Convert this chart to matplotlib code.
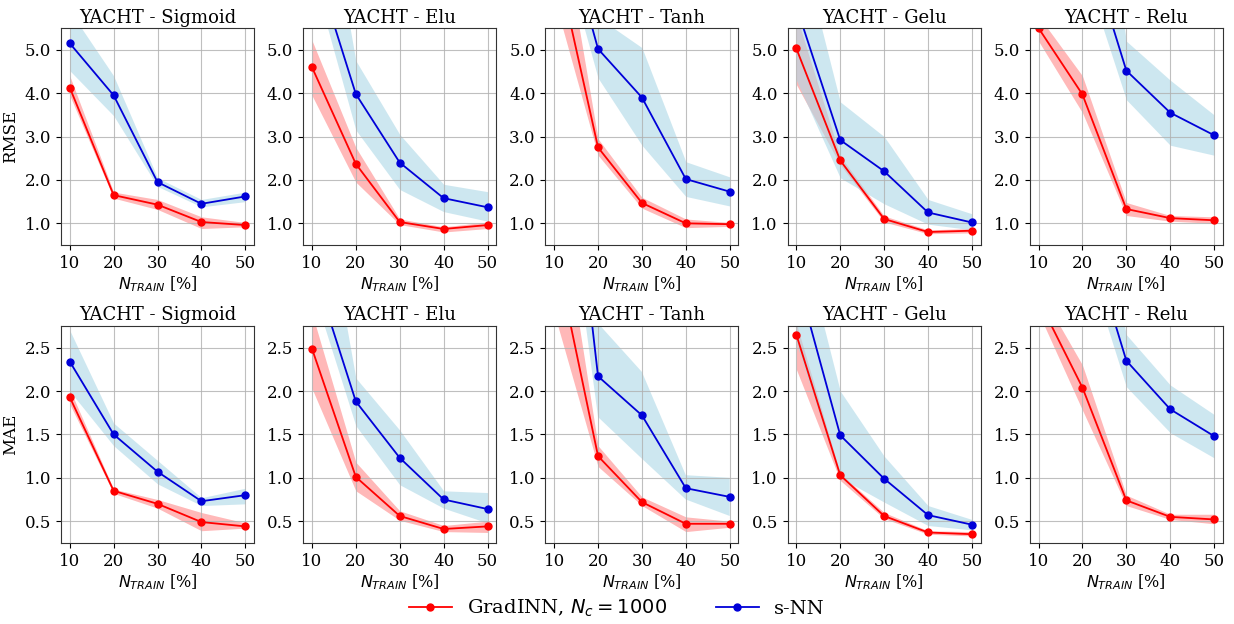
import matplotlib
matplotlib.use("Agg")
import matplotlib.pyplot as plt
import numpy as np

plt.rcParams['font.family'] = ['DejaVu Serif']
plt.rcParams['mathtext.fontset'] = 'dejavusans'

x_train = [10, 20, 30, 40, 50]
activations = ["Sigmoid", "Elu", "Tanh", "Gelu", "Relu"]

# RMSE: GradINN (mean, lower, upper)
rmse_grad_mean = {
    "Sigmoid": [4.13, 1.65, 1.43, 1.03, 0.96],
    "Elu":     [4.60, 2.37, 1.03, 0.87, 0.96],
    "Tanh":    [7.30, 2.75, 1.47, 1.00, 0.98],
    "Gelu":    [5.03, 2.45, 1.10, 0.80, 0.83],
    "Relu":    [5.50, 3.97, 1.33, 1.12, 1.07],
}
rmse_grad_lo = {
    "Sigmoid": [3.95, 1.58, 1.32, 0.88, 0.92],
    "Elu":     [3.95, 1.95, 0.97, 0.80, 0.88],
    "Tanh":    [6.20, 2.57, 1.35, 0.90, 0.93],
    "Gelu":    [4.20, 2.35, 1.03, 0.76, 0.78],
    "Relu":    [5.20, 3.55, 1.18, 1.05, 1.00],
}
rmse_grad_hi = {
    "Sigmoid": [4.40, 1.72, 1.55, 1.15, 1.02],
    "Elu":     [5.22, 2.75, 1.10, 0.92, 1.03],
    "Tanh":    [8.90, 2.95, 1.60, 1.10, 1.02],
    "Gelu":    [5.80, 2.55, 1.17, 0.85, 0.88],
    "Relu":    [5.78, 4.40, 1.48, 1.18, 1.15],
}
# RMSE: s-NN
rmse_snn_mean = {
    "Sigmoid": [5.15, 3.95, 1.95, 1.45, 1.62],
    "Elu":     [7.20, 3.98, 2.40, 1.58, 1.37],
    "Tanh":    [8.70, 5.02, 3.90, 2.02, 1.73],
    "Gelu":    [6.00, 2.92, 2.20, 1.25, 1.02],
    "Relu":    [12.0, 7.80, 4.52, 3.55, 3.03],
}
rmse_snn_lo = {
    "Sigmoid": [4.52, 3.48, 1.85, 1.38, 1.50],
    "Elu":     [6.80, 3.15, 1.78, 1.27, 1.05],
    "Tanh":    [8.00, 4.35, 2.80, 1.62, 1.40],
    "Gelu":    [4.30, 2.05, 1.45, 0.98, 0.85],
    "Relu":    [10.0, 6.96, 3.85, 2.80, 2.57],
}
rmse_snn_hi = {
    "Sigmoid": [5.90, 4.40, 2.05, 1.55, 1.72],
    "Elu":     [10.5, 4.75, 3.05, 1.90, 1.73],
    "Tanh":    [12.0, 5.75, 5.05, 2.42, 2.07],
    "Gelu":    [7.80, 3.80, 3.00, 1.55, 1.22],
    "Relu":    [14.0, 12.0, 5.20, 4.30, 3.50],
}

# MAE: GradINN
mae_grad_mean = {
    "Sigmoid": [1.93, 0.85, 0.70, 0.49, 0.44],
    "Elu":     [2.49, 1.01, 0.56, 0.41, 0.44],
    "Tanh":    [3.67, 1.25, 0.72, 0.47, 0.47],
    "Gelu":    [2.65, 1.03, 0.56, 0.37, 0.35],
    "Relu":    [3.05, 2.04, 0.74, 0.55, 0.52],
}
mae_grad_lo = {
    "Sigmoid": [1.85, 0.82, 0.65, 0.39, 0.42],
    "Elu":     [2.03, 0.85, 0.51, 0.38, 0.37],
    "Tanh":    [2.90, 1.13, 0.68, 0.38, 0.43],
    "Gelu":    [2.25, 0.97, 0.53, 0.35, 0.33],
    "Relu":    [2.90, 1.78, 0.68, 0.52, 0.47],
}
mae_grad_hi = {
    "Sigmoid": [2.02, 0.87, 0.75, 0.60, 0.48],
    "Elu":     [2.90, 1.18, 0.62, 0.45, 0.50],
    "Tanh":    [4.60, 1.37, 0.78, 0.55, 0.50],
    "Gelu":    [2.78, 1.05, 0.60, 0.39, 0.38],
    "Relu":    [3.18, 2.30, 0.80, 0.58, 0.58],
}
# MAE: s-NN
mae_snn_mean = {
    "Sigmoid": [2.34, 1.50, 1.07, 0.73, 0.80],
    "Elu":     [3.46, 1.88, 1.23, 0.75, 0.64],
    "Tanh":    [6.60, 2.17, 1.72, 0.88, 0.78],
    "Gelu":    [3.34, 1.49, 0.99, 0.57, 0.46],
    "Relu":    [6.00, 4.02, 2.35, 1.79, 1.48],
}
mae_snn_lo = {
    "Sigmoid": [2.00, 1.37, 0.93, 0.68, 0.70],
    "Elu":     [3.20, 1.60, 0.92, 0.65, 0.48],
    "Tanh":    [5.50, 1.70, 1.22, 0.75, 0.56],
    "Gelu":    [2.55, 1.00, 0.72, 0.45, 0.40],
    "Relu":    [5.50, 3.65, 2.05, 1.52, 1.23],
}
mae_snn_hi = {
    "Sigmoid": [2.70, 1.63, 1.20, 0.77, 0.88],
    "Elu":     [5.00, 2.15, 1.55, 0.85, 0.83],
    "Tanh":    [9.00, 2.78, 2.22, 1.03, 1.00],
    "Gelu":    [4.00, 2.00, 1.25, 0.68, 0.52],
    "Relu":    [7.00, 5.00, 2.65, 2.07, 1.73],
}

red_line = "#ff0000"
red_fill = "#ff0000"
blue_line = "#0000d8"
blue_fill = "lightblue"

fig, axes = plt.subplots(2, 5, figsize=(12.34, 6.24), dpi=100)
fig.subplots_adjust(left=0.0494, right=0.991, top=0.955, bottom=0.130,
                    wspace=0.254, hspace=0.373)

rows = [
    ("RMSE", rmse_grad_mean, rmse_grad_lo, rmse_grad_hi,
     rmse_snn_mean, rmse_snn_lo, rmse_snn_hi, (0.5, 5.5),
     [1.0, 2.0, 3.0, 4.0, 5.0]),
    ("MAE", mae_grad_mean, mae_grad_lo, mae_grad_hi,
     mae_snn_mean, mae_snn_lo, mae_snn_hi, (0.25, 2.75),
     [0.5, 1.0, 1.5, 2.0, 2.5]),
]

for r, (metric, gm, gl, gh, sm, sl, sh, ylim, yt) in enumerate(rows):
    for c, act in enumerate(activations):
        ax = axes[r, c]
        ax.fill_between(x_train, gl[act], gh[act], color=red_fill, alpha=0.28, linewidth=0)
        l1, = ax.plot(x_train, gm[act], '-o', color=red_line, markersize=5,
                      linewidth=1.3, label=r"GradINN, $N_c = 1000$")
        ax.fill_between(x_train, sl[act], sh[act], color=blue_fill, alpha=0.6, linewidth=0)
        l2, = ax.plot(x_train, sm[act], '-o', color=blue_line, markersize=5,
                      linewidth=1.3, label="s-NN")
        ax.set_xlim(8, 52)
        ax.set_ylim(*ylim)
        ax.set_xticks(x_train)
        ax.set_yticks(yt)
        ax.set_yticklabels([f"{v:.1f}" for v in yt])
        ax.grid(True, color='#b0b0b0', linewidth=0.8, alpha=0.8)
        ax.tick_params(labelsize=12)
        ax.set_title(f"YACHT - {act}", fontsize=13, pad=4)
        ax.set_xlabel(r"$N_{TRAIN}$ [%]", fontsize=11.5, labelpad=2)
        if c == 0:
            ax.set_ylabel(metric, fontsize=12)
        for s in ax.spines.values():
            s.set_color('#333333')

fig.legend([l1, l2], [r"GradINN, $N_c = 1000$", "s-NN"], loc='center',
           bbox_to_anchor=(0.5, 0.025), ncol=2, frameon=False, fontsize=14,
           columnspacing=2.5, handlelength=2.2)

fig.savefig("out.png", dpi=100)
